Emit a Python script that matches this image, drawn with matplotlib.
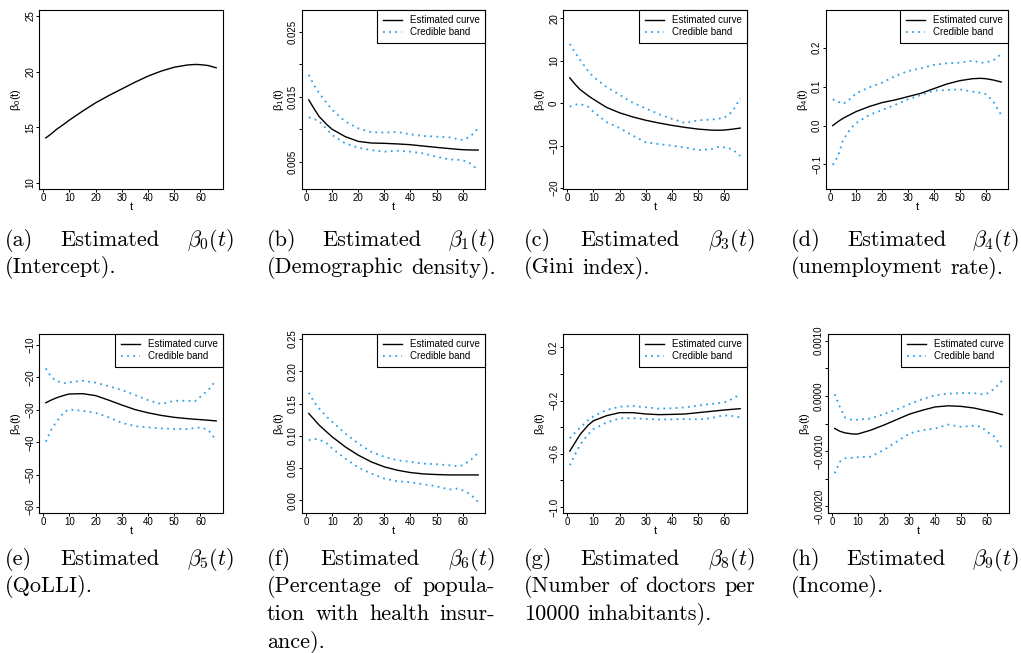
import matplotlib
matplotlib.use("Agg")
import matplotlib.pyplot as plt

W, H = 1021, 653

t = [1, 3, 5, 8, 10, 15, 20, 25, 30, 35, 40, 45, 50, 55, 58, 60, 63, 66]

b0_est = [14.05, 14.4, 14.8, 15.3, 15.65, 16.45, 17.2, 17.85, 18.45, 19.05, 19.6, 20.05, 20.4, 20.6, 20.65, 20.63, 20.55, 20.35]

b1_est = [0.01454, 0.0132, 0.01196, 0.0107, 0.0100, 0.00887, 0.00814, 0.00789, 0.00784, 0.00775, 0.00763, 0.00742, 0.00722, 0.00703, 0.00692, 0.00686, 0.00682, 0.0068]
b1_up = [0.0184, 0.0168, 0.01557, 0.0140, 0.013, 0.0112, 0.01016, 0.00954, 0.0095, 0.00959, 0.00923, 0.00897, 0.00887, 0.00876, 0.0085, 0.00835, 0.0089, 0.01016]
b1_lo = [0.01186, 0.0116, 0.0112, 0.0100, 0.00912, 0.00784, 0.00716, 0.0068, 0.00655, 0.0067, 0.00655, 0.00629, 0.00577, 0.00536, 0.0053, 0.00526, 0.00474, 0.00371]

b3_est = [6.0, 4.5, 3.2, 1.8, 0.96, -0.96, -2.24, -3.2, -4.0, -4.64, -5.2, -5.68, -6.08, -6.32, -6.35, -6.3, -6.1, -5.84]
b3_up = [14.0, 12.0, 10.16, 7.6, 6.24, 3.84, 2.0, 0.16, -1.2, -2.56, -3.68, -4.64, -4.0, -3.84, -3.6, -3.36, -2.0, 1.2]
b3_lo = [-0.8, -0.3, -0.16, -0.8, -2.0, -4.4, -5.84, -7.6, -9.2, -9.6, -10.0, -10.4, -11.04, -10.8, -10.2, -10.4, -10.8, -12.4]

b4_est = [0.0, 0.01, 0.0188, 0.029, 0.0359, 0.0487, 0.059, 0.0658, 0.0744, 0.0829, 0.0949, 0.1068, 0.1154, 0.1205, 0.1214, 0.1205, 0.117, 0.112]
b4_up = [0.0675, 0.0615, 0.0556, 0.070, 0.083, 0.098, 0.110, 0.127, 0.140, 0.147, 0.156, 0.160, 0.1615, 0.1667, 0.1615, 0.162, 0.168, 0.184]
b4_lo = [-0.101, -0.0795, -0.037, -0.0068, 0.006, 0.027, 0.040, 0.053, 0.0675, 0.0786, 0.0897, 0.0915, 0.093, 0.087, 0.084, 0.081, 0.0615, 0.027]

b5_est = [-27.8, -27.0, -26.3, -25.5, -25.1, -25.0, -25.6, -27.0, -28.5, -29.9, -30.9, -31.7, -32.3, -32.7, -32.9, -33.0, -33.2, -33.4]
b5_up = [-17.2, -19.8, -21.1, -21.8, -21.5, -21.0, -21.6, -22.7, -23.9, -25.4, -27.0, -28.2, -27.2, -27.2, -27.3, -25.9, -23.9, -20.8]
b5_lo = [-39.8, -36.2, -33.7, -30.6, -29.9, -30.3, -30.9, -32.3, -34.0, -35.0, -35.4, -35.7, -35.9, -35.9, -35.6, -35.4, -36.2, -39.3]

b6_est = [0.1346, 0.1255, 0.1165, 0.1055, 0.0983, 0.0828, 0.0699, 0.0595, 0.0518, 0.0466, 0.043, 0.0409, 0.0399, 0.0393, 0.0393, 0.0393, 0.0393, 0.0393]
b6_up = [0.1667, 0.1527, 0.1423, 0.129, 0.1216, 0.1035, 0.088, 0.075, 0.0673, 0.0621, 0.0595, 0.0569, 0.0559, 0.0543, 0.0528, 0.0543, 0.0621, 0.0735]
b6_lo = [0.0932, 0.0952, 0.0942, 0.088, 0.0802, 0.0647, 0.0507, 0.0414, 0.0336, 0.0295, 0.028, 0.0248, 0.0217, 0.0166, 0.0181, 0.0155, 0.0093, -0.0026]

b8_est = [-0.58, -0.516, -0.453, -0.385, -0.352, -0.314, -0.291, -0.291, -0.301, -0.306, -0.304, -0.301, -0.291, -0.281, -0.275, -0.271, -0.266, -0.261]
b8_up = [-0.484, -0.44, -0.403, -0.347, -0.319, -0.271, -0.246, -0.241, -0.251, -0.261, -0.258, -0.251, -0.238, -0.225, -0.218, -0.213, -0.187, -0.154]
b8_lo = [-0.686, -0.605, -0.529, -0.453, -0.415, -0.365, -0.334, -0.332, -0.339, -0.342, -0.342, -0.339, -0.342, -0.332, -0.318, -0.311, -0.316, -0.327]

b9_est = [-0.00059, -0.00064, -0.00067, -0.00069, -0.00069, -0.00062, -0.00053, -0.00043, -0.00033, -0.00026, -0.0002, -0.00018, -0.00019, -0.00022, -0.00025, -0.00027, -0.0003, -0.00034]
b9_up = [0.00003, -0.0002, -0.00039, -0.00044, -0.00043, -0.00041, -0.00033, -0.00025, -0.00015, -0.00006, 0.00001, 0.00004, 0.00005, 0.00005, 0.00003, 0.00004, 0.00013, 0.00028]
b9_lo = [-0.0014, -0.00119, -0.00113, -0.00112, -0.00111, -0.0011, -0.00098, -0.00083, -0.00068, -0.00062, -0.00059, -0.00052, -0.00056, -0.00054, -0.00056, -0.00065, -0.00074, -0.00095]

x_ticks = [0, 10, 20, 30, 40, 50, 60]

# (y label, estimate, upper, lower, ylim, yticks, ytick labels)
panels = [
    (r"$\mathregular{\beta_0(t)}$", b0_est, None, None, (9.46, 25.54),
     [10, 15, 20, 25], ["10", "15", "20", "25"]),
    (r"$\mathregular{\beta_1(t)}$", b1_est, b1_up, b1_lo, (0.0008, 0.0284),
     [0.005, 0.010, 0.015, 0.020, 0.025], ["0.005", "", "0.015", "", "0.025"]),
    (r"$\mathregular{\beta_3(t)}$", b3_est, b3_up, b3_lo, (-20.2, 22.0),
     [-20, -10, 0, 10, 20], ["\u221220", "\u221210", "0", "10", "20"]),
    (r"$\mathregular{\beta_4(t)}$", b4_est, b4_up, b4_lo, (-0.163, 0.297),
     [-0.1, 0.0, 0.1, 0.2], ["\u22120.1", "0.0", "0.1", "0.2"]),
    (r"$\mathregular{\beta_5(t)}$", b5_est, b5_up, b5_lo, (-61.8, -6.6),
     [-60, -50, -40, -30, -20, -10], ["\u221260", "\u221250", "\u221240", "\u221230", "\u221220", "\u221210"]),
    (r"$\mathregular{\beta_6(t)}$", b6_est, b6_up, b6_lo, (-0.0197, 0.2578),
     [0.0, 0.05, 0.10, 0.15, 0.20, 0.25], ["0.00", "0.05", "0.10", "0.15", "0.20", "0.25"]),
    (r"$\mathregular{\beta_8(t)}$", b8_est, b8_up, b8_lo, (-1.045, 0.300),
     [-1.0, -0.8, -0.6, -0.4, -0.2, 0.0, 0.2], ["\u22121.0", "", "\u22120.6", "", "\u22120.2", "", "0.2"]),
    (r"$\mathregular{\beta_9(t)}$", b9_est, b9_up, b9_lo, (-0.00212, 0.00112),
     [-0.002, -0.0015, -0.001, -0.0005, 0.0, 0.0005, 0.001],
     ["\u22120.0020", "", "\u22120.0010", "", "0.0000", "", "0.0010"]),
]

captions = [
    [(["(a)", "Estimated", r"$\beta_0(t)$"], True), (["(Intercept)."], False)],
    [(["(b)", "Estimated", r"$\beta_1(t)$"], True), (["(Demographic", "density)."], False)],
    [(["(c)", "Estimated", r"$\beta_3(t)$"], True), (["(Gini", "index)."], False)],
    [(["(d)", "Estimated", r"$\beta_4(t)$"], True), (["(unemployment", "rate)."], False)],
    [(["(e)", "Estimated", r"$\beta_5(t)$"], True), (["(QoLLI)."], False)],
    [(["(f)", "Estimated", r"$\beta_6(t)$"], True),
     (["(Percentage", "of", "popula-"], True),
     (["tion", "with", "health", "insur-"], True),
     (["ance)."], False)],
    [(["(g)", "Estimated", r"$\beta_8(t)$"], True),
     (["(Number", "of", "doctors", "per"], True),
     (["10000", "inhabitants)."], False)],
    [(["(h)", "Estimated", r"$\beta_9(t)$"], True), (["(Income)."], False)],
]

# pixel boxes (left, top, right, bottom)
axes_px = [(39, 10, 223, 189), (302, 10, 485, 189), (563, 10, 747, 189), (826, 10, 1008, 189),
           (39, 334, 223, 513), (302, 334, 485, 513), (563, 334, 747, 513), (828, 334, 1009, 513)]
cap_cols = [(5, 234), (267, 495), (524, 755), (791, 1019)]
cap_top = [246, 565]
cap_step = 27.5

band_color = "#2f9fe8"

plt.rcParams["font.family"] = ["Liberation Sans", "DejaVu Sans"]

fig = plt.figure(figsize=(W / 100, H / 100), dpi=100)

for i, (ylab, est, up, lo, ylim, yt, ytl) in enumerate(panels):
    l, tp, r, b = axes_px[i]
    ax = fig.add_axes([l / W, 1 - b / H, (r - l) / W, (b - tp) / H])
    ax.plot(t, est, color="black", lw=1.0, label="Estimated curve")
    if up is not None:
        ax.plot(t, up, color=band_color, lw=1.3, linestyle=(0, (1, 2.4)), label="Credible band")
        ax.plot(t, lo, color=band_color, lw=1.3, linestyle=(0, (1, 2.4)))
        leg = ax.legend(loc="upper right", fontsize=7, borderaxespad=0, fancybox=False,
                        framealpha=1, edgecolor="black", handlelength=2.0,
                        handletextpad=0.8, labelspacing=0.2, borderpad=0.55)
        leg.get_frame().set_linewidth(0.8)
    ax.set_xlim(-1.6, 68.6)
    ax.set_ylim(*ylim)
    ax.set_xticks(x_ticks)
    ax.set_xticklabels([str(v) for v in x_ticks])
    ax.set_yticks(yt)
    ax.set_yticklabels(ytl, rotation=90, va="center")
    ax.tick_params(direction="out", length=2.2, width=0.7, pad=0.6, labelsize=7, colors="black")
    for s in ax.spines.values():
        s.set_linewidth(0.8)
    ax.set_xlabel("t", fontsize=8, va="center")
    ax.xaxis.set_label_coords(0.5, -18 / (b - tp))
    ax.set_ylabel(ylab, fontsize=8, va="center")
    ax.yaxis.set_label_coords(-23 / (r - l), 0.5)

# captions, justified like the LaTeX subfigure captions
renderer = fig.canvas.get_renderer()
for i, lines in enumerate(captions):
    x0, x1 = cap_cols[i % 4]
    base = cap_top[i // 4]
    for j, (words, justify) in enumerate(lines):
        y = 1 - (base + j * cap_step) / H
        objs = [fig.text(0, y, w, fontsize=16, family="cmr10", math_fontfamily="cm",
                         va="baseline", ha="left") for w in words]
        widths = [o.get_window_extent(renderer).width for o in objs]
        if justify and len(words) > 1:
            gap = (x1 - x0 - sum(widths)) / (len(words) - 1)
        else:
            gap = 7.4
        x = x0
        for o, w in zip(objs, widths):
            o.set_x(x / W)
            x += w + gap

fig.savefig("out.png", dpi=100)
